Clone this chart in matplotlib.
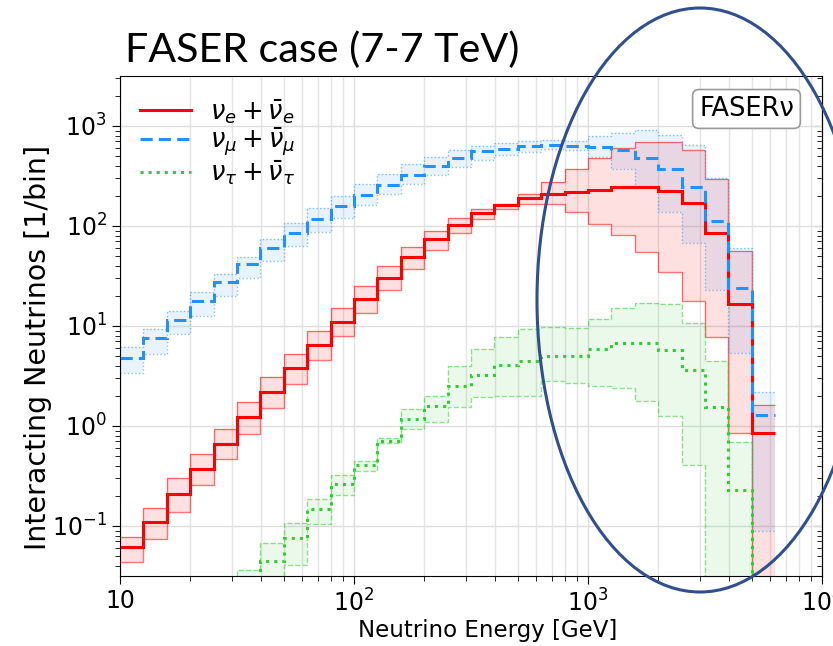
import numpy as np
import matplotlib.pyplot as plt
from matplotlib.patches import Ellipse
from matplotlib.ticker import FuncFormatter

# bin edges: 10 bins per decade, 10 GeV .. 10^3.8 GeV
edges = 10 ** np.arange(1.0, 3.85, 0.1)

# nu_e + nu_e-bar : central value, lower and upper band
nue = [0.061, 0.11, 0.21, 0.37, 0.665, 1.24, 2.2, 3.8, 6.5, 11, 18.8, 30, 49, 74,
       102, 134, 161, 192, 207, 219, 229, 245, 247, 224, 171, 85, 16.5, 0.86]
nue_lo = [0.044, 0.074, 0.138, 0.257, 0.465, 0.84, 1.52, 2.6, 4.6, 7.9, 13.6, 22.7, 37, 58,
          85, 118, 149, 165, 165, 138, 105, 81, 55, 35, 17.8, 7.8, 0.86, 0.01]
nue_hi = [0.078, 0.15, 0.30, 0.53, 0.93, 1.75, 3.1, 5.3, 8.9, 15, 25, 40, 62, 89,
          119, 147, 167, 210, 275, 369, 473, 607, 697, 697, 571, 293, 56, 1.63]

# nu_mu + nu_mu-bar
numu = [4.8, 7.5, 11.5, 17.8, 27.5, 42, 60, 85, 117, 158, 204, 255, 324, 398,
        475, 558, 593, 631, 646, 631, 610, 575, 475, 369, 245, 112, 23.7, 1.29]
numu_lo = [3.4, 5.3, 8.3, 12.6, 20, 30, 45, 63, 88, 121, 161, 207, 261, 321,
           389, 454, 509, 553, 585, 575, 493, 374, 247, 139, 67, 23, 5.4, 0.089]
numu_hi = [6.2, 9.3, 14.1, 22, 33, 49, 74, 106, 150, 200, 265, 334, 414, 493,
           575, 631, 681, 708, 719, 708, 794, 857, 906, 807, 646, 300, 60, 2.19]

# nu_tau + nu_tau-bar
nutau = [0.001, 0.001, 0.002, 0.004, 0.008, 0.02, 0.045, 0.076, 0.147, 0.26, 0.41, 0.71, 1.17, 1.58,
         2.5, 3.2, 4.1, 4.5, 5.0, 5.0, 5.9, 6.8, 6.8, 5.7, 3.6, 1.56, 0.23, 0.001]
nutau_lo = [0.001, 0.001, 0.001, 0.002, 0.004, 0.01, 0.02, 0.041, 0.104, 0.203, 0.355, 0.67, 0.93, 1.1,
            1.55, 1.95, 2.0, 2.0, 2.8, 2.7, 2.5, 2.4, 1.78, 1.26, 0.41, 0.01, 0.005, 0.001]
nutau_hi = [0.001, 0.002, 0.004, 0.008, 0.015, 0.036, 0.067, 0.106, 0.185, 0.32, 0.45, 0.75, 1.47, 2.0,
            4.0, 5.9, 7.8, 9.3, 9.8, 9.6, 11.7, 15.2, 16.9, 16.5, 10.8, 4.5, 0.69, 0.002]

series = [
    (nue, nue_lo, nue_hi, '#ff0000', '-', '-', 0.12, r'$\nu_e + \bar{\nu}_e$'),
    (numu, numu_lo, numu_hi, '#2390ff', (0, (4, 2)), ':', 0.10, r'$\nu_\mu + \bar{\nu}_\mu$'),
    (nutau, nutau_lo, nutau_hi, '#33cc33', ':', '--', 0.10, r'$\nu_\tau + \bar{\nu}_\tau$'),
]

fig = plt.figure(figsize=(8.33, 6.46), dpi=100)
ax = fig.add_axes([0.144, 0.1084, 0.8428, 0.774])
ax.set_xscale('log')
ax.set_yscale('log')

for val, lo, hi, col, ls, bls, alp, lab in series:
    ax.stairs(hi, edges, baseline=lo, fill=True, color=col, alpha=alp, lw=0)
    ax.stairs(hi, edges, baseline=None, color=col, alpha=0.55, lw=1, linestyle=bls)
    ax.stairs(lo, edges, baseline=None, color=col, alpha=0.55, lw=1, linestyle=bls)
for val, lo, hi, col, ls, bls, alp, lab in series:
    ax.stairs(val, edges, baseline=None, color=col, lw=2.2, linestyle=ls, label=lab)

ax.set_xlim(10, 1e4)
ax.set_ylim(10 ** -1.5, 10 ** 3.5)
ax.set_axisbelow(True)
ax.grid(which='major', color='#dedede', lw=1)
ax.grid(which='minor', axis='x', color='#e4e4e4', lw=1)
ax.xaxis.set_major_formatter(FuncFormatter(
    lambda v, p: '10' if abs(v - 10) < 1e-9 else r'$10^{%d}$' % round(np.log10(v))))
ax.tick_params(which='both', direction='out', labelsize=17)
ax.tick_params(which='major', length=6)
ax.tick_params(which='minor', length=3.5)

sec = ax.secondary_yaxis('right', functions=(lambda v: v, lambda v: v))
sec.tick_params(which='both', direction='in', labelright=False)
sec.tick_params(which='major', length=6)
sec.tick_params(which='minor', length=3.5)

ax.set_xlabel('Neutrino Energy [GeV]', fontsize=16.5)
ax.set_ylabel('Interacting Neutrinos [1/bin]', fontsize=20.5)
ax.xaxis.set_label_coords(0.5235, -0.086)
ax.yaxis.set_label_coords(-0.097, 0.457)

ax.legend(loc='upper left', bbox_to_anchor=(0.028, 0.958), frameon=False, fontsize=18.5,
          handlelength=2.0, handletextpad=0.75, labelspacing=0.0,
          borderaxespad=0, borderpad=0)

ax.text(0.960, 0.960, 'FASERν', transform=ax.transAxes, ha='right', va='top', fontsize=18.5,
        bbox=dict(boxstyle='round,pad=0.25', fc='white', ec='#999999', lw=1.2))

fig.text(125 / 833, 1 - 62 / 646, 'FASER case (7-7 TeV)', fontsize=29.7, family='Lato',
         ha='left', va='baseline')

ell = Ellipse((700 / 833, 1 - 300 / 646), width=326 / 833, height=584 / 646,
              transform=fig.transFigure, fill=False, ec='#2f4f8f', lw=2.2)
fig.add_artist(ell)

fig.savefig('out.png', dpi=100)
